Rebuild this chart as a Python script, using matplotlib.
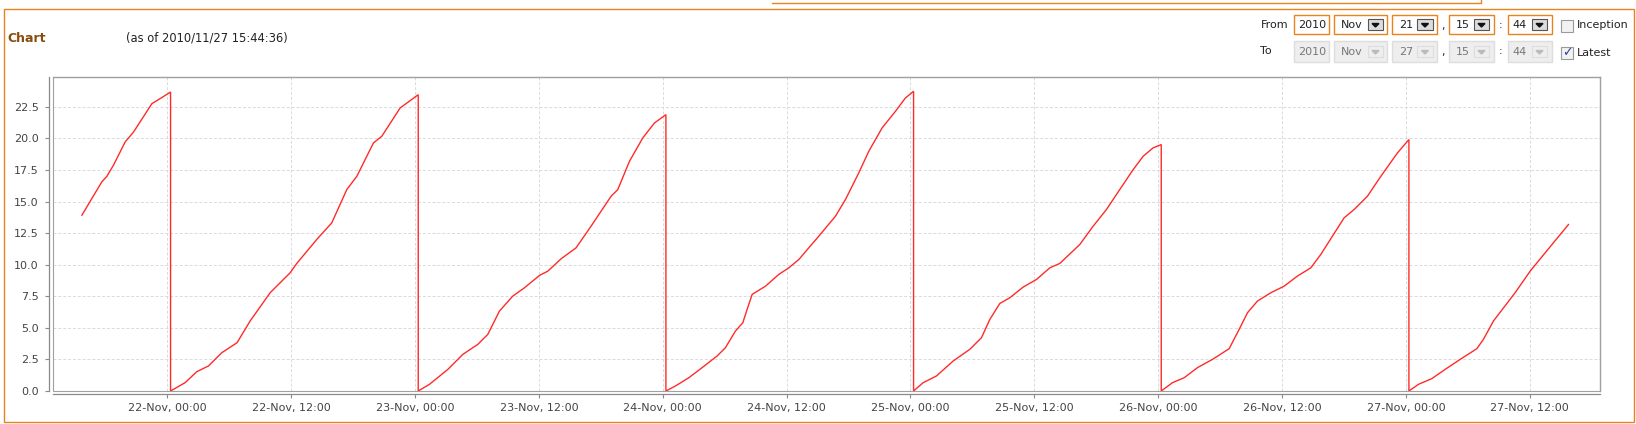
import datetime as dt
import matplotlib
matplotlib.use("Agg")
import matplotlib.pyplot as plt
import matplotlib.dates as mdates
from matplotlib.patches import Rectangle, Polygon
from matplotlib.lines import Line2D

# ---------------- data ----------------
day_starts = ["2010-11-21", "2010-11-22", "2010-11-23", "2010-11-24",
              "2010-11-25", "2010-11-26", "2010-11-27"]

hours_21 = [15.71, 17.64, 18.13, 18.77, 19.90, 20.71, 22.49, 23.29, 24.3]
vals_21 = [13.92, 16.56, 17.0, 17.88, 19.72, 20.5, 22.75, 23.15, 23.67]

hours_22 = [0.3, 1.71, 2.84, 3.97, 5.26, 6.74, 8.01, 9.95, 11.89, 12.53, 14.47,
            15.92, 17.38, 18.35, 19.96, 20.77, 22.55, 24.3]
vals_22 = [0.0, 0.66, 1.53, 1.98, 3.03, 3.82, 5.54, 7.78, 9.36, 10.10, 12.0,
           13.31, 15.95, 17.0, 19.64, 20.17, 22.41, 23.46]

hours_23 = [0.3, 1.39, 3.17, 4.62, 6.07, 7.04, 8.17, 9.46, 10.59, 12.05, 12.86,
            14.15, 15.6, 17.05, 18.02, 18.99, 19.64, 20.77, 22.06, 23.19, 24.3]
vals_23 = [0.0, 0.53, 1.71, 2.90, 3.69, 4.48, 6.33, 7.51, 8.17, 9.15, 9.49,
           10.47, 11.34, 13.05, 14.24, 15.42, 15.95, 18.19, 20.04, 21.22, 21.88]

hours_24 = [0.3, 1.23, 2.52, 3.81, 5.26, 6.07, 7.04, 7.75, 8.17, 8.66, 9.95,
            11.24, 12.21, 13.18, 14.15, 15.12, 16.73, 17.70, 18.99, 19.96,
            21.25, 22.55, 23.51, 24.3]
vals_24 = [0.0, 0.40, 1.05, 1.85, 2.77, 3.43, 4.75, 5.40, 6.46, 7.65, 8.30,
           9.23, 9.75, 10.41, 11.34, 12.26, 13.84, 15.16, 17.27, 18.98,
           20.83, 22.15, 23.20, 23.73]

hours_25 = [0.3, 1.23, 2.52, 4.13, 5.75, 6.88, 7.69, 8.66, 9.62, 10.92, 12.21,
            13.5, 14.47, 16.41, 17.70, 18.99, 20.28, 21.58, 22.55, 23.51, 24.3]
vals_25 = [0.0, 0.66, 1.19, 2.37, 3.30, 4.22, 5.67, 6.93, 7.38, 8.23, 8.83,
           9.75, 10.10, 11.60, 13.05, 14.37, 15.95, 17.53, 18.59, 19.25, 19.51]

hours_26 = [0.3, 1.39, 2.52, 3.81, 5.26, 6.88, 7.85, 8.66, 9.62, 10.92, 12.21,
            13.5, 14.79, 15.76, 16.89, 18.02, 18.99, 20.28, 21.58, 23.19, 24.3]
vals_26 = [0.0, 0.66, 1.05, 1.85, 2.50, 3.35, 4.88, 6.20, 7.12, 7.78, 8.30,
           9.10, 9.75, 10.81, 12.26, 13.71, 14.37, 15.42, 17.0, 18.85, 19.91]

hours_27 = [0.3, 1.23, 2.52, 3.81, 5.26, 6.88, 7.52, 8.49, 10.59, 12.05, 13.5,
            15.76]
vals_27 = [0.0, 0.53, 0.98, 1.71, 2.50, 3.35, 4.09, 5.54, 7.78, 9.49, 10.94,
           13.18]

segment_hours = [hours_21, hours_22, hours_23, hours_24, hours_25, hours_26, hours_27]
segment_vals = [vals_21, vals_22, vals_23, vals_24, vals_25, vals_26, vals_27]

y_ticks = [0.0, 2.5, 5.0, 7.5, 10.0, 12.5, 15.0, 17.5, 20.0, 22.5]

title_text = "Chart"
asof_text = "(as of 2010/11/27 15:44:36)"
from_fields = ["2010", "Nov", "21", "15", "44"]
to_fields = ["2010", "Nov", "27", "15", "44"]

# ---------------- build series ----------------
times, values = [], []
for d, hrs, vs in zip(day_starts, segment_hours, segment_vals):
    base = dt.datetime.strptime(d, "%Y-%m-%d")
    for h, v in zip(hrs, vs):
        times.append(base + dt.timedelta(hours=h))
        values.append(v)

W, H = 1636, 424
fig = plt.figure(figsize=(W / 100, H / 100), dpi=100)
fig.patch.set_facecolor("white")


def fx(x):
    return x / W


def fy(y):
    return 1 - y / H


def rect(x0, y0, x1, y1, **kw):
    fig.add_artist(Rectangle((fx(x0), fy(y1)), fx(x1) - fx(x0), fy(y0) - fy(y1),
                             transform=fig.transFigure, **kw))


ORANGE = "#e8841a"

# outer page borders
rect(3.5, 8.5, 1633.5, 422, fill=False, edgecolor=ORANGE, lw=1.0)
fig.add_artist(Line2D([fx(772), fx(1481), fx(1481)], [fy(2.5), fy(2.5), fy(0)],
                      transform=fig.transFigure, color=ORANGE, lw=1.0))

# header texts
fig.text(fx(7.5), fy(38), title_text, ha="left", va="center", fontsize=9,
         fontweight="bold", color="#8a4b0c")
fig.text(fx(126), fy(38), asof_text, ha="left", va="center", fontsize=8.3,
         color="#222222")

# date range controls
box_x = [(1294, 1329), (1334, 1387), (1392, 1437), (1449, 1494), (1508, 1552)]
btn_x = [None, (1368, 1383), (1417, 1433), (1474, 1489), (1532, 1547)]
txt_x = [1312, 1352, 1406, 1463, 1520]


def draw_row(y0, y1, fields, active, label, cb_label, checked):
    yc = (y0 + y1) / 2
    fig.text(fx(1260.5), fy(yc), label, ha="left", va="center", fontsize=8,
             color="#222222")
    for i, (bx, f) in enumerate(zip(box_x, fields)):
        if active:
            rect(bx[0], y0, bx[1], y1, facecolor="white", edgecolor=ORANGE, lw=1.0)
            tc = "#222222"
        else:
            rect(bx[0], y0, bx[1], y1, facecolor="#eeeeee", edgecolor="#dddddd", lw=1.0)
            tc = "#777777"
        fig.text(fx(txt_x[i]), fy(yc + 0.5), f, ha="center", va="center",
                 fontsize=8, color=tc)
        if btn_x[i] is not None:
            b0, b1 = btn_x[i]
            if active:
                rect(b0, yc - 5.5, b1, yc + 5.5, facecolor="#dcdcdc",
                     edgecolor="#555555", lw=0.8)
                ac = "#111111"
            else:
                rect(b0, yc - 5.5, b1, yc + 5.5, facecolor="#eeeeee",
                     edgecolor="#dddddd", lw=0.8)
                ac = "#bbbbbb"
            cx = (b0 + b1) / 2
            fig.add_artist(Polygon([(fx(cx - 3.5), fy(yc - 1)), (fx(cx + 3.5), fy(yc - 1)),
                                    (fx(cx), fy(yc + 2.5))], closed=True,
                                   transform=fig.transFigure, color=ac))
    fig.text(fx(1443), fy(yc + 1), ",", ha="center", va="center", fontsize=8,
             color="#222222")
    fig.text(fx(1501), fy(yc), ":", ha="center", va="center", fontsize=8,
             color="#222222")
    cy0, cy1 = yc - 6, yc + 6
    rect(1561, cy0 + 1, 1573, cy1 + 1, facecolor="#f2f2f2", edgecolor="#9a9a9a", lw=0.8)
    if checked:
        fig.text(fx(1567), fy(yc + 1), "\u2713", ha="center", va="center",
                 fontsize=9, fontweight="bold", color="#2a3f8f")
    fig.text(fx(1577), fy(yc + 1), cb_label, ha="left", va="center", fontsize=8,
             color="#222222")


draw_row(15, 34, from_fields, True, "From", "Inception", False)
draw_row(41, 62, to_fields, False, "To", "Latest", True)

# ---------------- plot ----------------
left, right, top, bottom = 52.5, 1600, 76.5, 391
ax = fig.add_axes([fx(left), fy(bottom), fx(right) - fx(left), fy(top) - fy(bottom)])
ax.set_facecolor("white")

ax.plot(times, values, color="#ff2a2a", lw=1.0, solid_joinstyle="miter", zorder=3)

day0 = dt.datetime(2010, 11, 22)
ax.set_xlim(day0 - dt.timedelta(hours=11.14), day0 + dt.timedelta(days=5.784))
ax.set_ylim(0, 24.9)

ax.set_yticks(y_ticks)
ax.yaxis.set_major_formatter(matplotlib.ticker.FormatStrFormatter("%.1f"))
ax.xaxis.set_major_locator(mdates.HourLocator(byhour=[0, 12]))
ax.xaxis.set_major_formatter(mdates.DateFormatter("%d-%b, %H:%M"))

ax.grid(True, color="#dadada", linestyle=(0, (3, 2)), lw=0.7, zorder=0)

for s in ["top", "right"]:
    ax.spines[s].set_color("#8a8a8a")
    ax.spines[s].set_linewidth(0.9)
for s in ["left", "bottom"]:
    ax.spines[s].set_position(("outward", 2.5))
    ax.spines[s].set_color("#8a8a8a")
    ax.spines[s].set_linewidth(0.9)
ax.add_patch(Rectangle((0, 0), 1, 1, transform=ax.transAxes, fill=False,
                       edgecolor="#a0a0a0", lw=0.8, zorder=4, clip_on=False))

ax.tick_params(axis="both", direction="out", length=3, width=0.8, color="#8a8a8a",
               labelcolor="#444444", labelsize=8)
ax.tick_params(axis="y", pad=4.5)
ax.tick_params(axis="x", pad=3)

fig.savefig("out.png", dpi=100, facecolor="white")
